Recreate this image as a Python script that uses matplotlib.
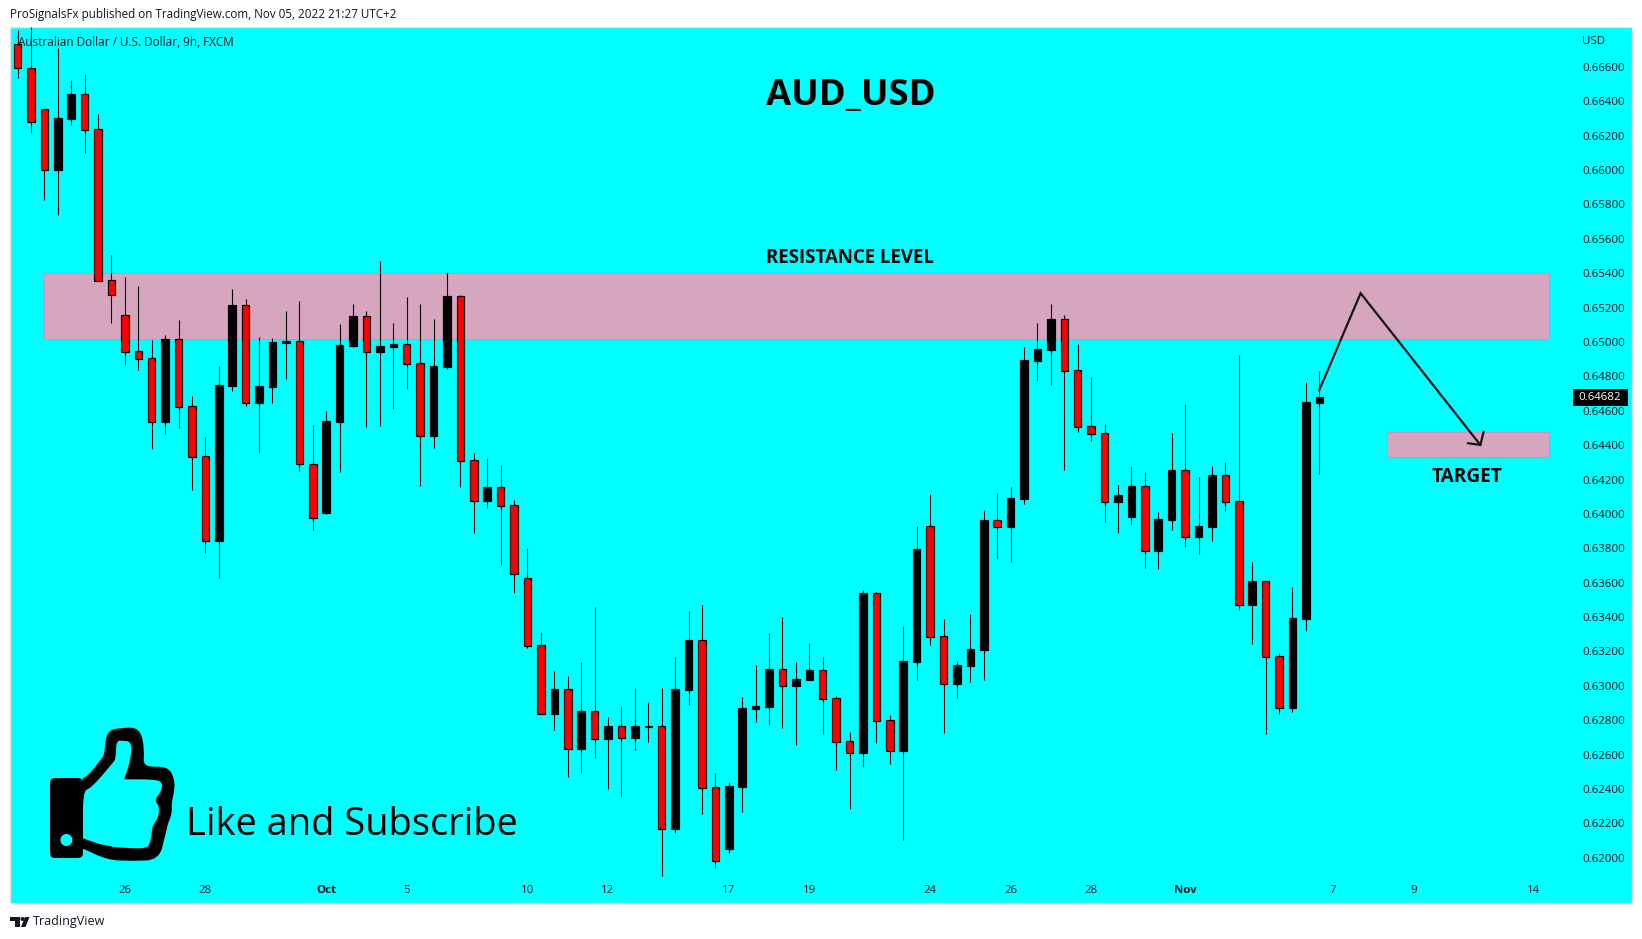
import matplotlib
matplotlib.use("Agg")
import matplotlib.pyplot as plt
from matplotlib.patches import Rectangle, PathPatch, Circle, FancyBboxPatch, Polygon
from matplotlib.path import Path

# -------------- DATA ---------------------------------------
opens = [.66730, .66594, .66353, .66001, .66296, .66440, .66236, .65358, .65155, .64946,
         .64905, .64536, .65015, .64626, .64335, .63844, .64744, .65213, .64647, .64740,
         .64994, .65004, .64289, .64007, .64536, .64978, .65149, .64943, .64971, .64986,
         .64876, .64455, .64854, .65265, .64312, .64077, .64155, .64050, .63626, .63236,
         .62839, .62980, .62635, .62852, .62693, .62765, .62699, .62761, .62765, .62170,
         .62976, .63265, .62411, .62054, .62412, .62866, .62877, .63097, .63000, .63034,
         .63091, .62928, .62678, .62610, .63539, .62800, .62622, .63139, .63928, .63288,
         .63011, .63116, .63209, .63963, .63924, .64089, .64889, .64953, .65132, .64835,
         .64509, .64469, .64069, .63982, .64161, .63785, .63965, .64254, .63866, .63924,
         .64225, .64073, .63471, .63608, .63172, .62872, .63389, .64645]
closes = [.66594, .66277, .66001, .66302, .66441, .66234, .65356, .65275, .64943, .64903,
          .64536, .65017, .64623, .64333, .63844, .64750, .65215, .64647, .64744, .65000,
          .65005, .64289, .63978, .64539, .64980, .65151, .64943, .64976, .64988, .64873,
          .64455, .64860, .65267, .64310, .64077, .64155, .64048, .63649, .63234, .62839,
          .62980, .62635, .62852, .62693, .62767, .62699, .62767, .62767, .62170, .62982,
          .63267, .62408, .61984, .62418, .62872, .62883, .63098, .63001, .63040, .63093,
          .62926, .62676, .62612, .63540, .62798, .62623, .63145, .63796, .63286, .63013,
          .63122, .63215, .63965, .63926, .64093, .64895, .64959, .65133, .64833, .64507,
          .64466, .64071, .64110, .64162, .63786, .63971, .64255, .63868, .63930, .64226,
          .64071, .63472, .63610, .63170, .62873, .63395, .64651, .64680]
highs = [.66814, .66829, .66353, .66707, .66523, .66558, .66325, .65505, .65378, .65325,
         .65011, .65040, .65128, .64686, .64447, .64860, .65308, .65250, .65029, .65023,
         .65180, .65238, .64517, .64598, .65104, .65221, .65180, .65471, .65110, .65261,
         .65221, .65133, .65407, .65273, .64354, .64325, .64284, .64081, .63802, .63312,
         .63087, .63058, .63139, .63459, .62819, .62883, .62988, .62907, .62988, .63168,
         .63436, .63471, .62494, .62441, .62936, .63122, .63308, .63401, .63139, .63250,
         .63168, .62941, .62732, .63558, .63546, .62831, .63348, .63930, .64116, .63389,
         .63145, .63418, .64023, .64122, .64157, .64971, .65110, .65221, .65157, .64988,
         .64796, .64523, .64168, .64279, .64244, .64011, .64471, .64639, .64215, .64279,
         .64302, .64924, .63721, .63610, .63191, .63575, .64767, .64831]
lows = [.66536, .66216, .65825, .65738, .66261, .66098, .65356, .65112, .64866, .64837,
        .64378, .64465, .64500, .64139, .63775, .63629, .64715, .64629, .64356, .64647,
        .64786, .64251, .63907, .64000, .64244, .64971, .64507, .64511, .64610, .64726,
        .64164, .64383, .64843, .64158, .63891, .64036, .63705, .63542, .63221, .62839,
        .62746, .62472, .62496, .62583, .62403, .62356, .62628, .62674, .61895, .62147,
        .62889, .62255, .61941, .62030, .62267, .62790, .62773, .62755, .62657, .63034,
        .62721, .62511, .62284, .62529, .62668, .62546, .62104, .63034, .63238, .62726,
        .62930, .63023, .63034, .63738, .63721, .64058, .64773, .64750, .64255, .64476,
        .64424, .63953, .63889, .63936, .63686, .63680, .63907, .63808, .63767, .63843,
        .64017, .63441, .63244, .62721, .62837, .62848, .63319, .64232]

xtick_pos = [8, 14, 23, 29, 38, 44, 53, 59, 68, 74, 80, 87, 98, 104, 113]
xtick_labels = ["26", "28", "Oct", "5", "10", "12", "17", "19", "24", "26", "28", "Nov", "7", "9", "14"]
ytick_vals = [.620 + .002 * i for i in range(24)]

resist_zone = (1.97, 114.1, .65015, .65399)
target_zone = (102.05, 114.1, .64329, .64475)
path_x = [97, 100.08, 109]
path_y = [.64720, .65283, .64401]
head_x = [108.08, 109, 109.25]
head_y = [.64411, .64401, .64478]
last_price = .64682

# thumb outline, in zoomed pixels
thumb_outer = [(225, 955), (245, 950), (285, 895), (292, 885), (298, 812), (340, 803), (392, 803),
               (405, 870), (400, 922), (470, 918), (490, 960), (487, 1000), (480, 1030), (482, 1060),
               (470, 1090), (462, 1130), (445, 1200), (370, 1203), (300, 1200), (232, 1165), (225, 1165)]
thumb_inner = [(232, 992), (255, 985), (315, 910), (325, 895), (325, 842), (345, 842), (368, 845),
               (368, 890), (348, 958), (348, 958), (435, 958), (455, 968), (452, 995), (432, 1020),
               (447, 1040), (442, 1078), (430, 1090), (425, 1112), (420, 1155), (405, 1165), (370, 1165),
               (300, 1160), (232, 1135), (232, 1135)]

# -------------- PARAMETERS ---------------------------------
W, H = 1642, 939
CYAN = "#00FFFF"
ZONE = "#D5A6BE"
ZONE_EDGE = "#D68CC4"
FONT = "Open Sans"
plt.rcParams["font.family"] = FONT


def px(size):
    return size * 0.72


def smooth_path(points):
    # closed curve through the midpoints, zoom coords -> figure px
    pts = [(x / 2.8, 460 + y / 3) for x, y in points]
    n = len(pts)
    mid = lambda a, b: ((a[0] + b[0]) / 2, (a[1] + b[1]) / 2)
    verts = [mid(pts[-1], pts[0])]
    codes = [Path.MOVETO]
    for i in range(n):
        verts += [pts[i], mid(pts[i], pts[(i + 1) % n])]
        codes += [Path.CURVE3, Path.CURVE3]
    return Path(verts, codes)


fig = plt.figure(figsize=(W / 100, H / 100), dpi=100, facecolor="white")

# overlay in figure pixels for panel, texts and icons
bg = fig.add_axes([0, 0, 1, 1], zorder=0)
bg.set_xlim(0, W)
bg.set_ylim(H, 0)
bg.axis("off")
bg.add_patch(Rectangle((10, 27), 1622, 876, facecolor=CYAN, edgecolor="#DDE8E8", linewidth=1))

# ── Price chart ─────────────────────────────────────────────
ax = fig.add_axes([10 / W, 1 - 878 / H, 1562 / W, 851 / H], zorder=1)
ax.patch.set_alpha(0)
ax.set_xlim(-0.559, 115.83)
ax.set_ylim(.61883, .66831)
for s in ax.spines.values():
    s.set_visible(False)

for (x0, x1, y0, y1) in (resist_zone, target_zone):
    ax.add_patch(Rectangle((x0, y0), x1 - x0, y1 - y0, facecolor=ZONE, edgecolor=ZONE_EDGE,
                           linewidth=0.8, zorder=1))

xs = list(range(len(opens)))
colors = ["red" if c < o else "black" for o, c in zip(opens, closes)]
ax.vlines(xs, lows, highs, color="black", linewidth=px(1.1), zorder=2)
ax.bar(xs, [abs(c - o) for o, c in zip(opens, closes)], bottom=[min(o, c) for o, c in zip(opens, closes)],
       width=0.56, color=colors, edgecolor="black", linewidth=px(1.2), zorder=3)

ax.plot(path_x, path_y, color="#111111", linewidth=px(2.2), solid_joinstyle="miter", zorder=4)
ax.plot(head_x, head_y, color="#111111", linewidth=px(2.2), zorder=4)

ax.yaxis.tick_right()
ax.set_yticks(ytick_vals)
ax.set_yticklabels([f"{v:.5f}" for v in ytick_vals], fontsize=px(11.5), color="#131722")
ax.tick_params(axis="y", length=0, pad=px(10))
ax.set_xticks(xtick_pos)
ax.set_xticklabels(xtick_labels, fontsize=px(11.5), color="#131722")
ax.tick_params(axis="x", length=0, pad=px(7))
for lab in ax.get_xticklabels():
    if lab.get_text() in ("Oct", "Nov"):
        lab.set_fontweight("bold")

# ── Text and icons on top ───────────────────────────────────
top = fig.add_axes([0, 0, 1, 1], zorder=2)
top.set_xlim(0, W)
top.set_ylim(H, 0)
top.axis("off")
top.patch.set_alpha(0)

top.text(10, 14.7, "ProSignalsFx published on TradingView.com, Nov 05, 2022 21:27 UTC+2",
         fontsize=px(11.6), color="#131722", va="center")
top.text(18.5, 42, "Australian Dollar / U.S. Dollar, 9h, FXCM", fontsize=px(11.8), color="#131722", va="center")
top.text(1582, 41, "USD", fontsize=px(11.5), color="#131722", va="center")

top.add_patch(Rectangle((1572.5, 389), 55.5, 16.7, facecolor="black", edgecolor="none"))
top.text(1600, 397.5, f"{last_price:.5f}", fontsize=px(11.5), color="white", ha="center", va="center")

top.text(851, 96, "AUD_USD", fontsize=px(36.5), fontweight="bold", color="black", ha="center", va="center")
top.text(850, 258, "RESISTANCE LEVEL", fontsize=px(18.7), fontweight="bold", color="black", ha="center", va="center")
top.text(1467.5, 477, "TARGET", fontsize=px(19), fontweight="bold", color="black", ha="center", va="center")
top.text(186, 835, "Like and Subscribe", fontsize=px(38), color="black", va="baseline")

# thumb
top.add_patch(PathPatch(smooth_path(thumb_outer), facecolor="black", edgecolor="none"))
top.add_patch(PathPatch(smooth_path(thumb_inner), facecolor=CYAN, edgecolor="none"))
top.add_patch(FancyBboxPatch((55, 783), 23, 70, boxstyle="round,pad=5", facecolor="black", edgecolor="none"))
top.add_patch(Circle((66.4, 840), 6, facecolor=CYAN, edgecolor="none"))

# TradingView footer logo
top.add_patch(Polygon([(10, 917), (20, 917), (20, 927), (15, 927), (15, 921), (10, 921)], facecolor="#131722"))
top.add_patch(Circle((22.5, 919), 2, facecolor="#131722"))
top.add_patch(Polygon([(25, 917), (29.5, 917), (25.5, 927), (21, 927)], facecolor="#131722"))
top.text(33, 922, "TradingView", fontsize=px(12.5), color="#131722", va="center")

fig.savefig("out.png", dpi=100, facecolor="white")
